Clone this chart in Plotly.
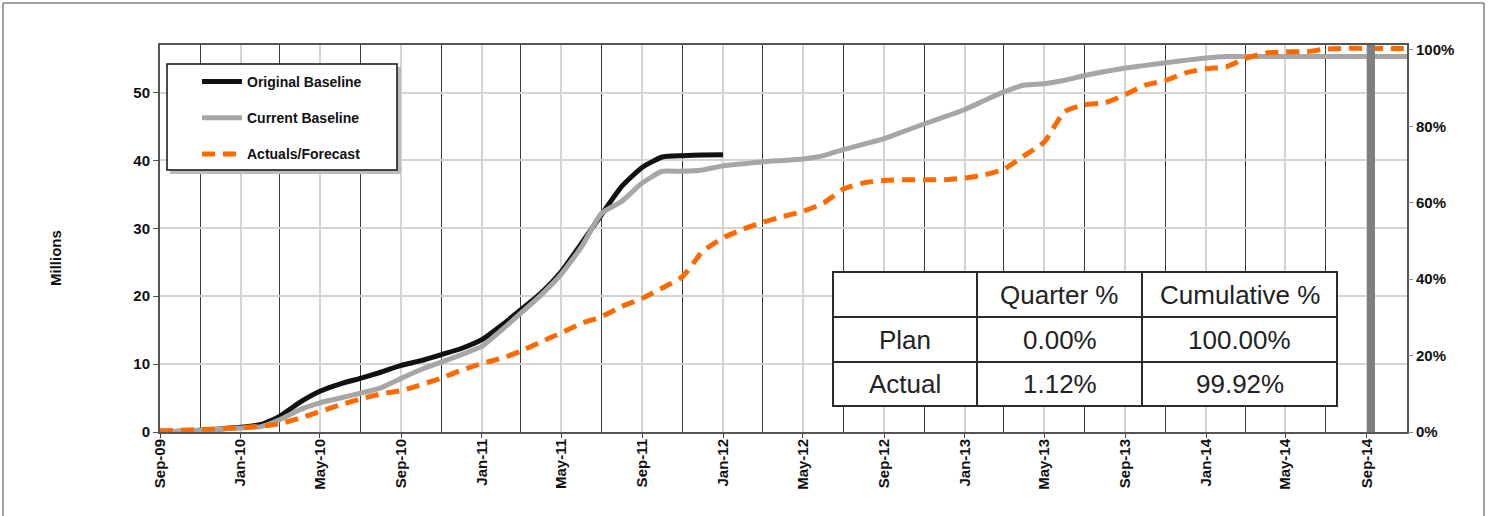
import plotly.graph_objects as go
import pandas as pd

# ---- data (millions, cumulative, month start) ----
months = pd.date_range("2009-09-01", "2014-11-01", freq="MS")

original_baseline = [
    0.0, 0.1, 0.25, 0.45, 0.7, 1.1, 2.3, 4.4, 6.0, 7.1, 7.9, 8.8, 9.8,
    10.5, 11.4, 12.3, 13.6, 15.8, 18.0, 20.5, 23.6, 27.8, 32.0, 36.2, 39.0,
    40.5, 40.7, 40.8, 40.85,
]

current_baseline = [
    0.0, 0.1, 0.25, 0.4, 0.6, 0.8, 1.8, 3.3, 4.3, 5.0, 5.7, 6.5, 7.9,
    9.2, 10.3, 11.4, 12.6, 15.1, 17.5, 20.2, 23.2, 27.3, 32.2, 34.0, 36.7,
    38.4, 38.4, 38.6, 39.2, 39.5, 39.8, 40.0, 40.2, 40.7, 41.6, 42.4, 43.2,
    44.3, 45.4, 46.4, 47.5, 48.9, 50.1, 51.1, 51.3, 51.8, 52.5, 53.1, 53.6,
    54.0, 54.4, 54.75, 55.1, 55.3, 55.3, 55.3, 55.3, 55.3, 55.3, 55.3, 55.3,
    55.3, 55.3,
]

actuals_forecast = [
    0.2, 0.25, 0.35, 0.5, 0.65, 0.85, 1.2, 2.05, 3.0, 4.0, 4.85, 5.6, 6.1,
    6.95, 7.95, 9.1, 10.1, 10.9, 11.9, 13.3, 14.6, 16.0, 17.0, 18.5, 19.7,
    21.2, 22.9, 26.6, 28.6, 29.9, 30.9, 31.75, 32.5, 33.7, 35.8, 36.7, 37.05,
    37.15, 37.15, 37.15, 37.4, 37.9, 38.7, 40.7, 42.7, 47.2, 48.2, 48.5, 49.7,
    51.1, 51.8, 52.9, 53.5, 53.8, 55.0, 55.8, 56.0, 56.0, 56.4, 56.5, 56.5,
    56.5, 56.5,
]

series_names = ["Original Baseline", "Current Baseline", "Actuals/Forecast"]

status_date = ["2014-09-01"]

pct_ticks = [0, 20, 40, 60, 80, 100]

# summary table
table_header = ["", "Quarter %", "Cumulative %"]
table_rows = ["Plan", "Actual"]
quarter_pct = ["0.00%", "1.12%"]
cumulative_pct = ["100.00%", "99.92%"]

Y_MAX = 57.0        # millions axis top
Y2_MAX = 101.3      # percent axis top

# ---- figure geometry ----
W, H = 1492, 516
ML, MR, MT, MB = 160, 85, 45, 84
PW, PH = W - ML - MR, H - MT - MB


def px(x):
    return (x - ML) / PW


def py(y):
    return (H - MB - y) / PH


FONT = "Liberation Sans, Arial, sans-serif"

fig = go.Figure()

fig.add_trace(go.Scatter(
    x=months[:len(original_baseline)], y=original_baseline,
    name=series_names[0], mode="lines",
    line=dict(color="#111111", width=5, shape="spline", smoothing=0.5),
    legendgroup="a",
))
fig.add_trace(go.Scatter(
    x=months[:len(current_baseline)], y=current_baseline,
    name=series_names[1], mode="lines",
    line=dict(color="#a6a6a6", width=5, shape="spline", smoothing=0.5),
    legendgroup="b",
))
fig.add_trace(go.Scatter(
    x=months[:len(actuals_forecast)], y=actuals_forecast,
    name=series_names[2], mode="lines",
    line=dict(color="#ff6a00", width=5, dash="13px,8px", shape="spline", smoothing=0.5),
    legendgroup="c",
))

# status-date marker on the percent axis
fig.add_trace(go.Bar(
    x=status_date, y=[Y2_MAX], yaxis="y2",
    width=[12 * 86400000], offset=0,
    marker=dict(color="#7f7f7f", line=dict(width=0)),
    showlegend=False, hoverinfo="skip",
))

tick_font = dict(family=FONT, size=15, color="#111111", weight="bold")

fig.update_layout(
    width=W, height=H,
    margin=dict(l=ML, r=MR, t=MT, b=MB),
    paper_bgcolor="white", plot_bgcolor="white",
    bargap=0,
    xaxis=dict(
        type="date",
        range=["2009-09-01", "2014-11-01"],
        tick0="2009-09-01", dtick="M4", tickformat="%b-%y",
        tickangle=-90, tickfont=tick_font,
        ticks="outside", ticklen=4, tickcolor="#444",
        ticklabelstandoff=-5,
        showgrid=True, gridcolor="#d4d4d4", gridwidth=1.5,
        minor=dict(tick0="2009-09-01", dtick="M2", showgrid=True,
                   gridcolor="#3a3a3a", gridwidth=1),
        showline=True, linecolor="#555555", linewidth=2, mirror=True,
        zeroline=False,
    ),
    yaxis=dict(
        range=[0, Y_MAX], dtick=10, tickfont=tick_font,
        ticks="outside", ticklen=5, tickcolor="#555",
        showgrid=True, gridcolor="#d4d4d4", gridwidth=1.5,
        showline=True, linecolor="#555555", linewidth=2, mirror=True,
        zeroline=False,
    ),
    yaxis2=dict(
        overlaying="y", side="right",
        range=[0, Y2_MAX], tickmode="array", tickvals=pct_ticks,
        ticktext=[f"{v}%" for v in pct_ticks],
        tickfont=tick_font, ticks="outside", ticklen=5, tickcolor="#888",
        showgrid=False, zeroline=False, showline=False,
    ),
    legend=dict(
        x=px(197), y=py(66), xanchor="left", yanchor="top",
        bgcolor="rgba(0,0,0,0)", borderwidth=0,
        font=dict(family=FONT, size=14, color="#111111", weight="bold"),
        tracegroupgap=15, itemwidth=40,
    ),
    showlegend=True,
)

shapes = []
# outer frame
shapes.append(dict(type="rect", xref="paper", yref="paper",
                   x0=px(3), x1=px(1484), y0=py(530), y1=py(3),
                   line=dict(color="#444444", width=1), layer="below"))
# legend box with shadow
shapes.append(dict(type="rect", xref="paper", yref="paper",
                   x0=px(170), x1=px(401), y0=py(174), y1=py(67),
                   fillcolor="#bdbdbd", line=dict(width=0), layer="above"))
shapes.append(dict(type="rect", xref="paper", yref="paper",
                   x0=px(167), x1=px(397), y0=py(170), y1=py(64),
                   fillcolor="white", line=dict(color="#111111", width=1.5), layer="above"))

# summary table grid
col_edges = [833, 977, 1142, 1337]
row_edges = [272, 317, 362, 406]
shapes.append(dict(type="rect", xref="paper", yref="paper",
                   x0=px(col_edges[0]), x1=px(col_edges[-1]),
                   y0=py(row_edges[-1]), y1=py(row_edges[0]),
                   fillcolor="white", line=dict(color="#2b2b2b", width=2), layer="above"))
for cx in col_edges[1:-1]:
    shapes.append(dict(type="line", xref="paper", yref="paper",
                       x0=px(cx), x1=px(cx), y0=py(row_edges[-1]), y1=py(row_edges[0]),
                       line=dict(color="#2b2b2b", width=2), layer="above"))
for ry in row_edges[1:-1]:
    shapes.append(dict(type="line", xref="paper", yref="paper",
                       x0=px(col_edges[0]), x1=px(col_edges[-1]), y0=py(ry), y1=py(ry),
                       line=dict(color="#2b2b2b", width=2), layer="above"))

annotations = []
cell_font = dict(family=FONT, size=26, color="#222222")
table_cells = [table_header] + [
    [table_rows[i], quarter_pct[i], cumulative_pct[i]] for i in range(len(table_rows))
]
for r, row in enumerate(table_cells):
    for c, txt in enumerate(row):
        if not txt:
            continue
        annotations.append(dict(
            xref="paper", yref="paper",
            x=px((col_edges[c] + col_edges[c + 1]) / 2),
            y=py((row_edges[r] + row_edges[r + 1]) / 2),
            text=txt, showarrow=False, font=cell_font,
            xanchor="center", yanchor="middle",
        ))

annotations.append(dict(
    xref="paper", yref="paper", x=px(55), y=py(258),
    text="Millions", textangle=-90, showarrow=False,
    font=dict(family=FONT, size=15, color="#111111", weight="bold"),
    xanchor="center", yanchor="middle",
))

fig.update_layout(shapes=shapes, annotations=annotations)

fig.write_html("out.html")
